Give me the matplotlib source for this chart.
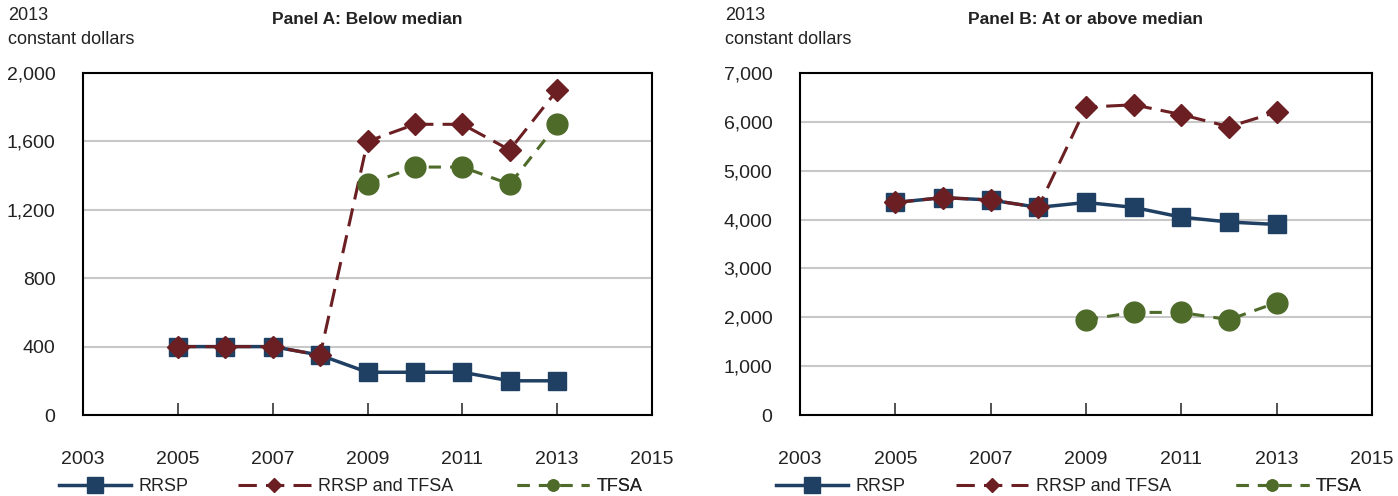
import matplotlib
matplotlib.use("Agg")
import matplotlib.pyplot as plt
from matplotlib.lines import Line2D
from matplotlib.ticker import FuncFormatter

plt.rcParams['font.family'] = ['Liberation Sans', 'DejaVu Sans']

# Data
years = [2005, 2006, 2007, 2008, 2009, 2010, 2011, 2012, 2013]
tfsa_years = [2009, 2010, 2011, 2012, 2013]

a_rrsp = [400, 400, 400, 350, 250, 250, 250, 200, 200]
a_both = [400, 400, 400, 350, 1600, 1700, 1700, 1550, 1900]
a_tfsa = [1350, 1450, 1450, 1350, 1700]

b_rrsp = [4350, 4450, 4400, 4250, 4350, 4250, 4050, 3950, 3900]
b_both = [4350, 4450, 4400, 4250, 6300, 6350, 6150, 5900, 6200]
b_tfsa = [1950, 2100, 2100, 1950, 2300]

x_ticks = [2003, 2005, 2007, 2009, 2011, 2013, 2015]
a_yticks = [0, 400, 800, 1200, 1600, 2000]
b_yticks = [0, 1000, 2000, 3000, 4000, 5000, 6000, 7000]

series_names = ["RRSP", "RRSP and TFSA", "TFSA"]

c_rrsp = "#1f3f63"
c_both = "#6b1f22"
c_tfsa = "#4e6b2a"
c_text = "#222222"

fig = plt.figure(figsize=(13.98, 4.96), dpi=100)
ax_a = fig.add_axes([0.0594, 0.1633, 0.407, 0.6895])
ax_b = fig.add_axes([0.5723, 0.1633, 0.409, 0.6895])


def draw_panel(ax, rrsp, both, tfsa, yticks, title, ylab_x):
    ax.plot(years, rrsp, color=c_rrsp, lw=2.5, marker="s", ms=13.5, zorder=3)
    ax.plot(years, both, color=c_both, lw=2.2, marker="D", ms=11,
            dashes=(6, 3), zorder=4)
    ax.plot(tfsa_years, tfsa, color=c_tfsa, lw=2.2, marker="o", ms=15,
            dashes=(4, 3), zorder=5)

    ax.set_xlim(2003, 2015)
    ax.set_ylim(yticks[0], yticks[-1])
    ax.set_xticks(x_ticks)
    ax.set_yticks(yticks)
    ax.yaxis.set_major_formatter(FuncFormatter(lambda v, p: f"{int(v):,}"))
    ax.grid(axis="y", color="#c8c8c8", lw=1.5)
    ax.set_axisbelow(True)
    for s in ax.spines.values():
        s.set_linewidth(1.5)
        s.set_color("black")
    ax.tick_params(axis="x", direction="in", length=9, width=1.2,
                   labelsize=14, pad=26, color="#333333", labelcolor=c_text)
    ax.tick_params(axis="y", length=0, labelsize=14, pad=20, labelcolor=c_text)

    # title and unit label, placed in figure coordinates
    pos = ax.get_position()
    fig.text(pos.x0 + pos.width / 2, 1 - 20 / 496, title, ha="center",
             va="center", fontsize=12.5, fontweight="bold", color=c_text)
    fig.text(ylab_x, 1 - 7 / 496, "2013\nconstant dollars", ha="left",
             va="top", fontsize=13, color=c_text, linespacing=1.5)

    # legend: one entry each, spread below the axis
    handles = [
        Line2D([], [], color=c_rrsp, lw=2.5, marker="s", ms=11),
        Line2D([], [], color=c_both, lw=2.2, marker="D", ms=7, dashes=(6, 3)),
        Line2D([], [], color=c_tfsa, lw=2.2, marker="o", ms=8, dashes=(4, 3)),
    ]
    for h, name, fx in zip(handles, series_names, [-0.042, 0.273, 0.763]):
        leg = ax.legend([h], [name], loc="center left",
                        bbox_to_anchor=(fx, -0.21), frameon=False,
                        fontsize=13, handlelength=4.0, handletextpad=0.4,
                        borderaxespad=0, borderpad=0, labelcolor=c_text)
        ax.add_artist(leg)


draw_panel(ax_a, a_rrsp, a_both, a_tfsa, a_yticks,
           "Panel A: Below median", 8 / 1398)
draw_panel(ax_b, b_rrsp, b_both, b_tfsa, b_yticks,
           "Panel B: At or above median", 725 / 1398)

fig.savefig("out.png", dpi=100)
